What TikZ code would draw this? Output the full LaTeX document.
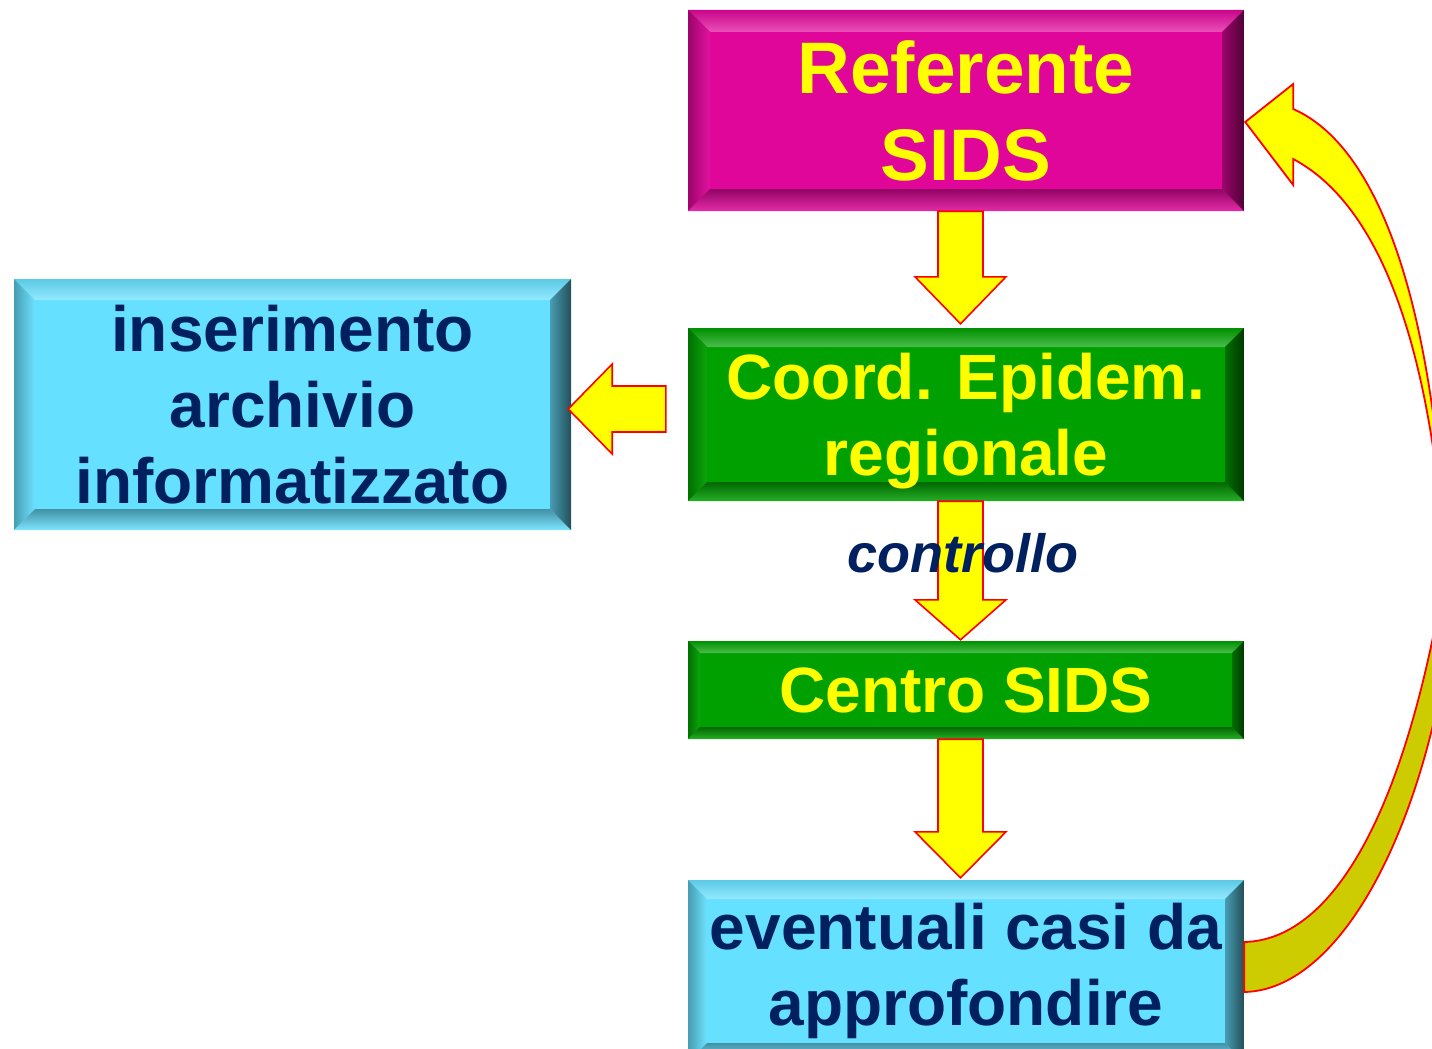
\documentclass[tikz,border=0pt]{standalone}
\usepackage{fontspec}
\setmainfont{Liberation Sans}
\usetikzlibrary{calc}

\definecolor{refmag}{RGB}{224,6,154}
\definecolor{epigreen}{RGB}{0,160,0}
\definecolor{archcyan}{RGB}{102,224,255}
\definecolor{navytext}{RGB}{0,32,96}
\definecolor{loopolive}{RGB}{204,204,0}
\definecolor{pureyellow}{RGB}{255,255,0}
\definecolor{purered}{RGB}{255,0,0}

% block arrow pointing down: tail point, tip point, head length
\newcommand{\downblock}[3]{%
    \draw[blockarrow] let \p1=(#1), \p2=(#2) in
        (\x1-22.5pt,\y1) -- (\x1-22.5pt,\y2+#3pt) -- (\x1-45.5pt,\y2+#3pt) -- (\x1,\y2)
        -- (\x1+45.5pt,\y2+#3pt) -- (\x1+22.5pt,\y2+#3pt) -- (\x1+22.5pt,\y1) -- cycle;}
% block arrow pointing left
\newcommand{\leftblock}[3]{%
    \draw[blockarrow] let \p1=(#1), \p2=(#2) in
        (\x1,\y1+23pt) -- (\x2+#3pt,\y1+23pt) -- (\x2+#3pt,\y1+45pt) -- (\x2,\y1)
        -- (\x2+#3pt,\y1-45pt) -- (\x2+#3pt,\y1-23pt) -- (\x1,\y1-23pt) -- cycle;}

\begin{document}
\begin{tikzpicture}[x=1pt, y=-1pt, line join=miter,
    bevelbox/.style n args={2}{rectangle, inner sep=0pt, fill=#1, align=center,
        font=\fontsize{64}{76}\selectfont\bfseries,
        path picture={
            \coordinate (nw) at (path picture bounding box.north west);
            \coordinate (ne) at (path picture bounding box.north east);
            \coordinate (sw) at (path picture bounding box.south west);
            \coordinate (se) at (path picture bounding box.south east);
            \shade[top color=#1!90!black, bottom color=#1!70!white]
                (nw) -- (ne) -- ($(ne)+(-#2,#2)$) -- ($(nw)+(#2,#2)$) -- cycle;
            \shade[left color=#1!70!black, right color=#1!95!white]
                (nw) -- ($(nw)+(#2,#2)$) -- ($(sw)+(#2,-#2)$) -- (sw) -- cycle;
            \shade[top color=#1!65!black, bottom color=#1!85!white]
                (sw) -- ($(sw)+(#2,-#2)$) -- ($(se)+(-#2,-#2)$) -- (se) -- cycle;
            \shade[left color=#1!70!black, right color=#1!35!black]
                (se) -- ($(se)+(-#2,-#2)$) -- ($(ne)+(-#2,#2)$) -- (ne) -- cycle;
        }},
    blockarrow/.style={fill=pureyellow, draw=purered, line width=1.6pt}]

    \useasboundingbox (0,0) rectangle (1432,1049);
    \clip (0,0) rectangle (1432,1049);

    \node[bevelbox={refmag}{22}, minimum width=556, minimum height=201, text=pureyellow,
        font=\fontsize{73}{87}\selectfont\bfseries] (ref) at (966,110.5) {Referente\\SIDS};
    \node[bevelbox={epigreen}{19}, minimum width=556, minimum height=173, text=pureyellow,
        text depth=0pt] (coord) at (966,414.5) {Coord. Epidem.\\regionale};
    \node[bevelbox={epigreen}{12}, minimum width=556, minimum height=98, text=pureyellow]
        (centro) at (966,690) {Centro SIDS};
    \node[bevelbox={archcyan}{19}, minimum width=556, minimum height=182, text=navytext]
        (event) at (966,971) {eventuali casi da\\approfondire};
    \node[bevelbox={archcyan}{21}, minimum width=557, minimum height=251, text=navytext]
        (inser) at (292.5,404.5) {inserimento\\archivio\\informatizzato};

    % straight block arrows
    \downblock{$(ref.south)+(-5.5,0)$}{$(coord.north)+(-5.5,-4)$}{47}
    \downblock{$(coord.south)+(-5.5,0)$}{$(centro.north)+(-5.5,-1)$}{40}
    \downblock{$(centro.south)+(-5.5,0)$}{$(event.north)+(-5.5,-2)$}{46}
    \leftblock{$(coord.west)+(-22,-5.5)$}{$(inser.east)+(-3,4.5)$}{44}

    % curved arrow back to the top box
    \begin{scope}[shift={(event.east)}]
        \draw[fill=loopolive, draw=purered, line width=1.8pt]
            (0,-29) .. controls (86,-31) and (156,-151) .. (196,-371)
            -- (208,-351) .. controls (181,-141) and (96,19) .. (0,21) -- cycle;
    \end{scope}
    \begin{scope}[shift={(ref.east)}]
        \draw[fill=pureyellow, draw=purered, line width=1.8pt]
            (1,11.5) -- (49,-26.5) -- (49,-1.5)
            .. controls (131,34.5) and (186,179.5) .. (201,429.5)
            -- (201,449.5) .. controls (184,209.5) and (126,89.5) .. (49,48.5)
            -- (49,74.5) -- cycle;
    \end{scope}

    \node[text=navytext, font=\fontsize{54}{60}\selectfont\bfseries\itshape] (ctrl)
        at (963,553) {controllo};
\end{tikzpicture}
\end{document}
